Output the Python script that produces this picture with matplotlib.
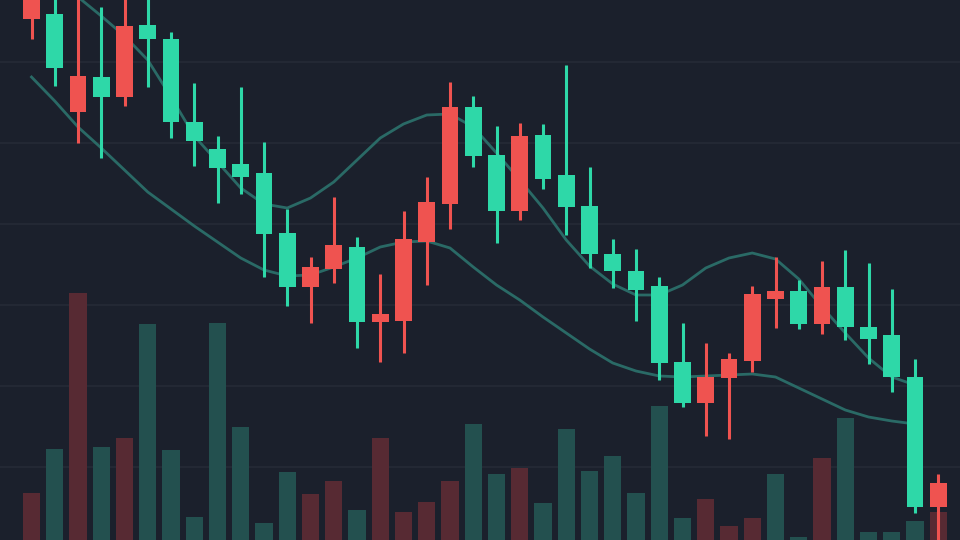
import numpy as np
import matplotlib
matplotlib.use("Agg")
import matplotlib.pyplot as plt

# candle data (price units)
open_ = [54.8, 47.2, 46.4, 44.3, 51.4, 50.1, 41.8, 39.9, 37.2, 36.3,
         30.6, 25.3, 27.3, 29.5, 21.8, 22.6, 30.1, 33.8, 43.3, 38.4,
         32.9, 40.4, 36.1, 33.3, 28.6, 26.9, 25.0, 17.7, 13.7, 16.3,
         18.1, 24.6, 24.9, 21.6, 25.3, 21.3, 20.1, 16.3, 3.3, 5.7]
high = [56.0, 54.5, 54.5, 53.3, 54.5, 54.5, 50.8, 45.7, 40.4, 45.3,
        39.8, 33.1, 28.3, 34.3, 30.3, 26.6, 32.9, 36.3, 45.8, 44.4,
        41.4, 41.7, 41.6, 47.5, 37.3, 30.1, 29.1, 26.3, 21.7, 19.7,
        18.7, 25.4, 28.3, 26.0, 27.9, 29.0, 27.7, 25.1, 18.1, 6.6]
low = [50.1, 45.4, 39.7, 38.2, 43.4, 45.3, 40.2, 37.4, 33.7, 34.6,
       26.3, 23.4, 21.7, 25.7, 19.2, 17.8, 18.7, 25.5, 31.1, 37.3,
       29.7, 32.0, 35.1, 30.5, 27.2, 25.2, 21.9, 16.0, 13.3, 10.4,
       10.1, 16.8, 21.2, 21.1, 20.6, 20.0, 17.6, 14.8, 2.7, -2.0]
close = [52.1, 52.6, 42.8, 46.3, 44.3, 51.5, 50.1, 41.8, 39.1, 37.6,
         36.7, 30.7, 25.3, 27.1, 29.3, 21.8, 21.9, 29.8, 33.6, 43.3,
         38.5, 32.9, 40.5, 36.5, 33.4, 28.6, 26.9, 25.4, 17.8, 13.7,
         16.2, 17.9, 24.1, 24.9, 21.6, 25.3, 21.3, 20.5, 16.3, 3.3]

# moving average lines
ma_fast = [58.1, 56.2, 54.3, 52.4, 50.4, 48.0, 44.3, 40.4, 37.8, 35.2,
           33.6, 33.2, 34.2, 35.8, 38.0, 40.2, 41.6, 42.5, 42.6, 41.3,
           38.7, 36.0, 33.2, 30.0, 27.4, 25.6, 24.5, 24.5, 25.5, 27.2,
           28.2, 28.7, 28.1, 26.1, 23.3, 20.7, 18.2, 16.3, 15.5, np.nan]
ma_slow = [46.3, 43.9, 41.3, 39.2, 37.0, 34.8, 33.1, 31.4, 29.8, 28.2,
           27.0, 26.4, 26.5, 27.3, 28.2, 29.3, 29.8, 29.9, 29.2, 27.3,
           25.5, 24.0, 22.3, 20.7, 19.1, 17.7, 16.9, 16.4, 16.3, 16.4,
           16.5, 16.6, 16.3, 15.2, 14.1, 13.0, 12.3, 11.9, 11.6, np.nan]

# volume bars
volume = [470, 910, 2470, 930, 1020, 2160, 900, 230, 2170, 1130,
          170, 680, 460, 590, 300, 1020, 280, 380, 590, 1160,
          660, 720, 370, 1110, 690, 840, 470, 1340, 220, 410,
          140, 220, 660, 30, 820, 1220, 80, 80, 190, 280]
volume_up = [0, 1, 0, 1, 0, 1, 1, 1, 1, 1,
             1, 1, 0, 0, 1, 0, 0, 0, 0, 1,
             1, 0, 1, 1, 1, 1, 1, 1, 1, 0,
             0, 0, 1, 1, 0, 1, 1, 1, 1, 0]

bg = '#1b202c'
up_col = '#2ed8a8'
down_col = '#ef5350'
vol_up_col = '#23504f'
vol_down_col = '#572a33'
ma_col = '#2a6a66'
grid_col = '#252a36'

x = np.arange(len(close))
xlim = (-1.355, 39.935)

fig = plt.figure(figsize=(9.6, 5.4), dpi=100)
fig.patch.set_facecolor(bg)

# volume axes underneath, carries the grid
ax = fig.add_axes([0, 0, 1, 1])
ax.set_facecolor(bg)
vcols = [vol_up_col if u else vol_down_col for u in volume_up]
ax.bar(x, volume, width=0.75, color=vcols, zorder=2)
ax.set_xlim(*xlim)
ax.set_ylim(0, 5400)
ax.set_xticks(-0.41 + 5.13 * np.arange(8))
ax.set_yticks((7.3 + 8.1 * np.arange(6)) * 100)
ax.grid(True, color=grid_col, lw=1.2, zorder=0)
ax.set_axisbelow(True)
ax.tick_params(length=0, labelleft=False, labelbottom=False)
for s in ax.spines.values():
    s.set_visible(False)

# price axes on top
ax2 = ax.twinx()
ax2.patch.set_visible(False)
ax2.set_xlim(*xlim)
ax2.set_ylim(0, 54)
ax2.plot(x, ma_fast, color=ma_col, lw=2.0, zorder=2, solid_joinstyle='round')
ax2.plot(x, ma_slow, color=ma_col, lw=2.0, zorder=2, solid_joinstyle='round')

o = np.array(open_)
c = np.array(close)
cols = np.where(c >= o, up_col, down_col)
ax2.vlines(x, low, high, colors=cols, lw=2.2, zorder=3)
ax2.bar(x, np.abs(c - o), bottom=np.minimum(o, c), width=0.73, color=cols, zorder=4)
ax2.set_yticks([])
ax2.set_xticks([])
for s in ax2.spines.values():
    s.set_visible(False)

fig.savefig('out.png', dpi=100, facecolor=bg)
